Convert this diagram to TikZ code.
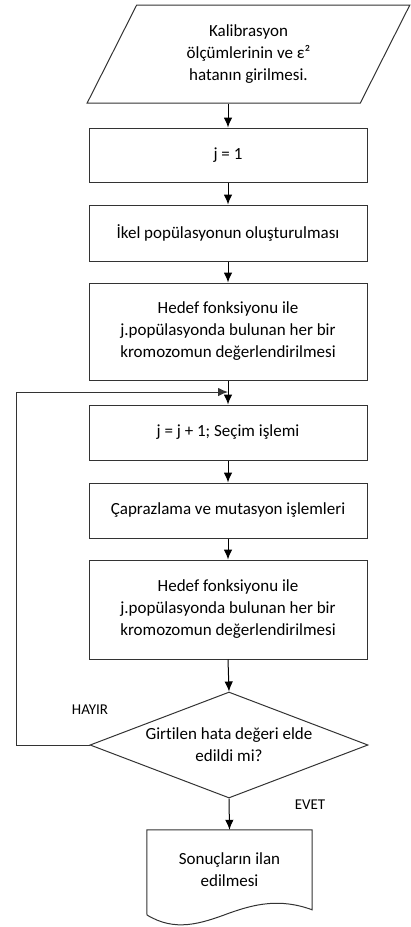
\documentclass[tikz,border=0pt]{standalone}
\usepackage{fontspec}
\setmainfont[Ligatures=NoCommon]{Carlito}
\usetikzlibrary{arrows.meta,shapes.geometric}

\tikzset{
  kutu/.style={draw=black!80, line width=1pt, minimum width=278pt, align=center, inner sep=0pt},
  giris/.style={trapezium, trapezium left angle=65, trapezium right angle=115, trapezium stretches=true,
    draw=black!80, line width=1pt, minimum width=323pt, minimum height=98pt, align=center, inner sep=0pt},
  karar/.style={diamond, aspect=2.62, draw=black!80, line width=1pt, minimum width=278pt, minimum height=106pt,
    align=center, inner sep=0pt},
  etiket/.style={font=\fontsize{15}{18}\selectfont}
}

\begin{document}
\begin{tikzpicture}[x=1pt, y=-1pt, >={Latex[length=10pt,width=8.5pt]},
  every node/.style={font=\fontsize{17}{22}\selectfont}]

  \useasboundingbox (0,0) rectangle (411,927);

  % steps
  \node [giris] (giris) at (248.5,54) {Kalibrasyon\\ölçümlerinin ve ε²\\hatanın girilmesi.};
  \node [kutu, minimum height=54pt] (j1) at (228,155) {j = 1};
  \node [kutu, minimum height=56pt] (ilk) at (228,233) {İkel popülasyonun oluşturulması};
  \node [kutu, minimum height=97pt] (hedef1) at (228,331.5) {Hedef fonksiyonu ile\\j.popülasyonda bulunan her  bir\\kromozomun değerlendirilmesi};
  \node [kutu, minimum height=55pt] (secim) at (228,432.5) {j = j + 1; Seçim işlemi};
  \node [kutu, minimum height=55pt] (capraz) at (228,510.5) {Çaprazlama ve mutasyon işlemleri};
  \node [kutu, minimum height=99pt] (hedef2) at (228,609.5) {Hedef fonksiyonu ile\\j.popülasyonda bulunan her  bir\\kromozomun değerlendirilmesi};
  \node [karar] (karar) at (229,745) {Girtilen hata değeri elde\\edildi mi?};

  % document
  \node [minimum width=165pt, minimum height=80pt, align=center, inner sep=0pt] (sonuc) at (229.5,870) {Sonuçların ilan\\edilmesi};
  \draw [draw=black!80, line width=1pt] (sonuc.north west) -- (sonuc.north east) -- ++(0,80)
    .. controls (280,898) and (255,904) .. (229.5,913) .. controls (200,924) and (175,932) .. (147,915) -- cycle;

  % labels
  \node [etiket] (hayir) at (90,710) {HAYIR};
  \node [etiket] (evet) at (310,805) {EVET};

  % arrows
  \coordinate (birlesme) at (228,392);
  \draw [->, line width=1pt] (j1.north |- giris.south) -- (j1);
  \draw [->, line width=1pt] (j1) -- (ilk);
  \draw [->, line width=1pt] (ilk) -- (hedef1);
  \draw [->, line width=1pt] (hedef1) -- (secim);
  \draw [->, line width=1pt] (secim) -- (capraz);
  \draw [->, line width=1pt] (capraz) -- (hedef2);
  \draw [->, line width=1pt] (hedef2.south) -- (karar.north);
  \draw [->, line width=1pt] (karar.south) -- (sonuc.north);
  \draw [->, line width=1pt, draw=black!80] (karar.west) -- (16,745) |- (birlesme);

\end{tikzpicture}
\end{document}
